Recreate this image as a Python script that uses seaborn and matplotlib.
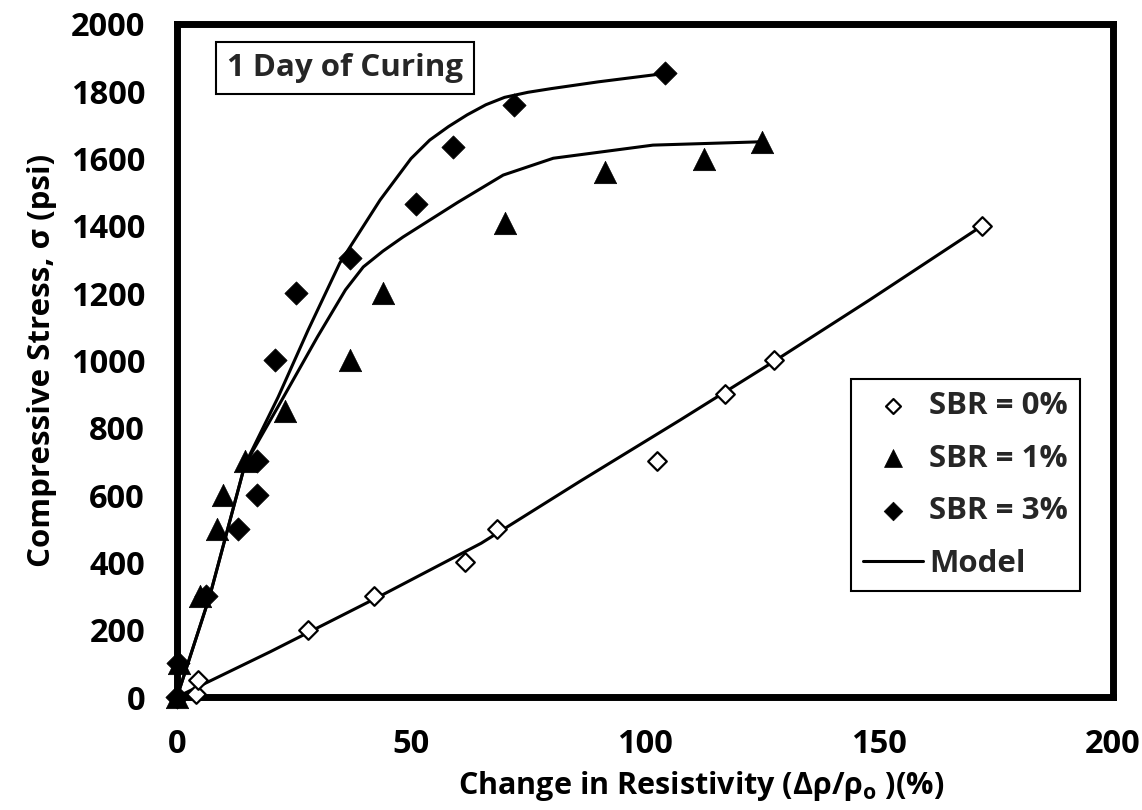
import numpy as np
import pandas as pd
import matplotlib
matplotlib.use('Agg')
import matplotlib.pyplot as plt
import seaborn as sns

sbr0_x = [0, 4, 4.5, 28, 42, 61.5, 68.4, 102.5, 117, 127.5, 172]
sbr0_y = [0, 10, 50, 200, 300, 400, 500, 700, 900, 1000, 1400]

sbr1_x = [0, 0.5, 5, 8.5, 9.8, 14.5, 23, 37, 44, 70, 91.5, 112.5, 125]
sbr1_y = [0, 100, 300, 500, 600, 700, 850, 1000, 1200, 1410, 1560, 1600, 1650]

sbr3_x = [0, 0.3, 6.3, 13, 17, 17, 21, 25.4, 37, 51, 59, 72, 104.3]
sbr3_y = [0, 100, 300, 500, 600, 700, 1000, 1200, 1305, 1465, 1635, 1760, 1853]

# Model curves
model0_x = [0, 20, 43, 65, 86, 107.5, 127.4, 148, 172]
model0_y = [0, 135, 297, 457, 640, 823, 996, 1180, 1400]

model1_x = [0, 7, 14.5, 22.7, 30, 36, 39.8, 44, 48.3, 60, 69.7, 80.4, 101.7, 125]
model1_y = [0, 300, 690, 890, 1070, 1210, 1278, 1325, 1367, 1470, 1551, 1601, 1640, 1650]

model3_x = [0, 7, 14.5, 21.6, 28, 34.8, 43.4, 50, 54, 58, 62, 66, 70, 75, 80, 90, 104.3]
model3_y = [0, 300, 690, 891, 1090, 1290, 1477, 1600, 1655, 1695, 1730, 1760, 1782, 1797, 1808, 1828, 1853]

sns.set_theme(style='white')
plt.rcParams['font.family'] = ['Open Sans', 'DejaVu Sans']
plt.rcParams['font.weight'] = 'bold'
plt.rcParams['mathtext.fontset'] = 'custom'
plt.rcParams['mathtext.rm'] = 'Open Sans:bold'
plt.rcParams['mathtext.it'] = 'Open Sans:bold'

fig, ax = plt.subplots(figsize=(11.42, 8.10), dpi=100)
fig.subplots_adjust(left=0.155, right=0.9746, bottom=0.1395, top=0.9704)

# model lines
sns.lineplot(x=model0_x, y=model0_y, sort=False, estimator=None, color='black',
             linewidth=2.2, ax=ax, label='Model', zorder=2)
sns.lineplot(x=model1_x, y=model1_y, sort=False, estimator=None, color='black',
             linewidth=2.2, ax=ax, zorder=2)
sns.lineplot(x=model3_x, y=model3_y, sort=False, estimator=None, color='black',
             linewidth=2.2, ax=ax, zorder=2)

# measured points
sns.scatterplot(x=sbr0_x, y=sbr0_y, marker='D', s=90, facecolor='white',
                edgecolor='black', linewidth=1.6, ax=ax, label='SBR = 0%',
                clip_on=False, zorder=3)
sns.scatterplot(x=sbr1_x, y=sbr1_y, marker='^', s=260, color='black',
                edgecolor='black', linewidth=0.5, ax=ax, label='SBR = 1%',
                clip_on=False, zorder=3)
sns.scatterplot(x=sbr3_x, y=sbr3_y, marker='D', s=140, color='black',
                edgecolor='black', linewidth=0.5, ax=ax, label='SBR = 3%',
                clip_on=False, zorder=3)

ax.set_xlim(0, 200)
ax.set_ylim(0, 2000)
ax.set_xticks([0, 50, 100, 150, 200])
ax.set_yticks(range(0, 2001, 200))

for sp in ax.spines.values():
    sp.set_visible(True)
    sp.set_color('black')
    sp.set_linewidth(5)

ax.tick_params(axis='both', direction='in', length=5, width=5, color='black',
               labelsize=23.5, labelcolor='black')
ax.tick_params(axis='y', pad=23)
ax.tick_params(axis='x', pad=22)
for lab in ax.get_xticklabels() + ax.get_yticklabels():
    lab.set_fontweight('bold')

ax.set_xlabel(r'Change in Resistivity (Δρ/ρ$_{\mathrm{o}}$ )(%)', fontsize=22,
              fontweight='bold', color='black', labelpad=6)
ax.xaxis.label.set_x(0.56)
ax.set_ylabel('Compressive Stress, σ (psi)', fontsize=22.5, fontweight='bold',
              color='black', labelpad=10)

ax.text(0.053, 0.934, '1 Day of Curing', transform=ax.transAxes, fontsize=22.5,
        fontweight='bold', va='center', ha='left',
        bbox=dict(boxstyle='square,pad=0.35', facecolor='white',
                  edgecolor='black', linewidth=1.5))

handles, labels = ax.get_legend_handles_labels()
order = [labels.index(l) for l in ['SBR = 0%', 'SBR = 1%', 'SBR = 3%', 'Model']]
leg = ax.legend([handles[i] for i in order], [labels[i] for i in order],
                loc='lower right', bbox_to_anchor=(0.965, 0.1575),
                borderaxespad=0,
                prop={'weight': 'bold', 'size': 22.5}, frameon=True,
                fancybox=False, framealpha=1, edgecolor='black',
                labelspacing=0.72, handlelength=1.9, handletextpad=0.2,
                borderpad=0.4, markerscale=0.8)
leg.get_frame().set_linewidth(1.5)

fig.savefig('out.png', dpi=100)
